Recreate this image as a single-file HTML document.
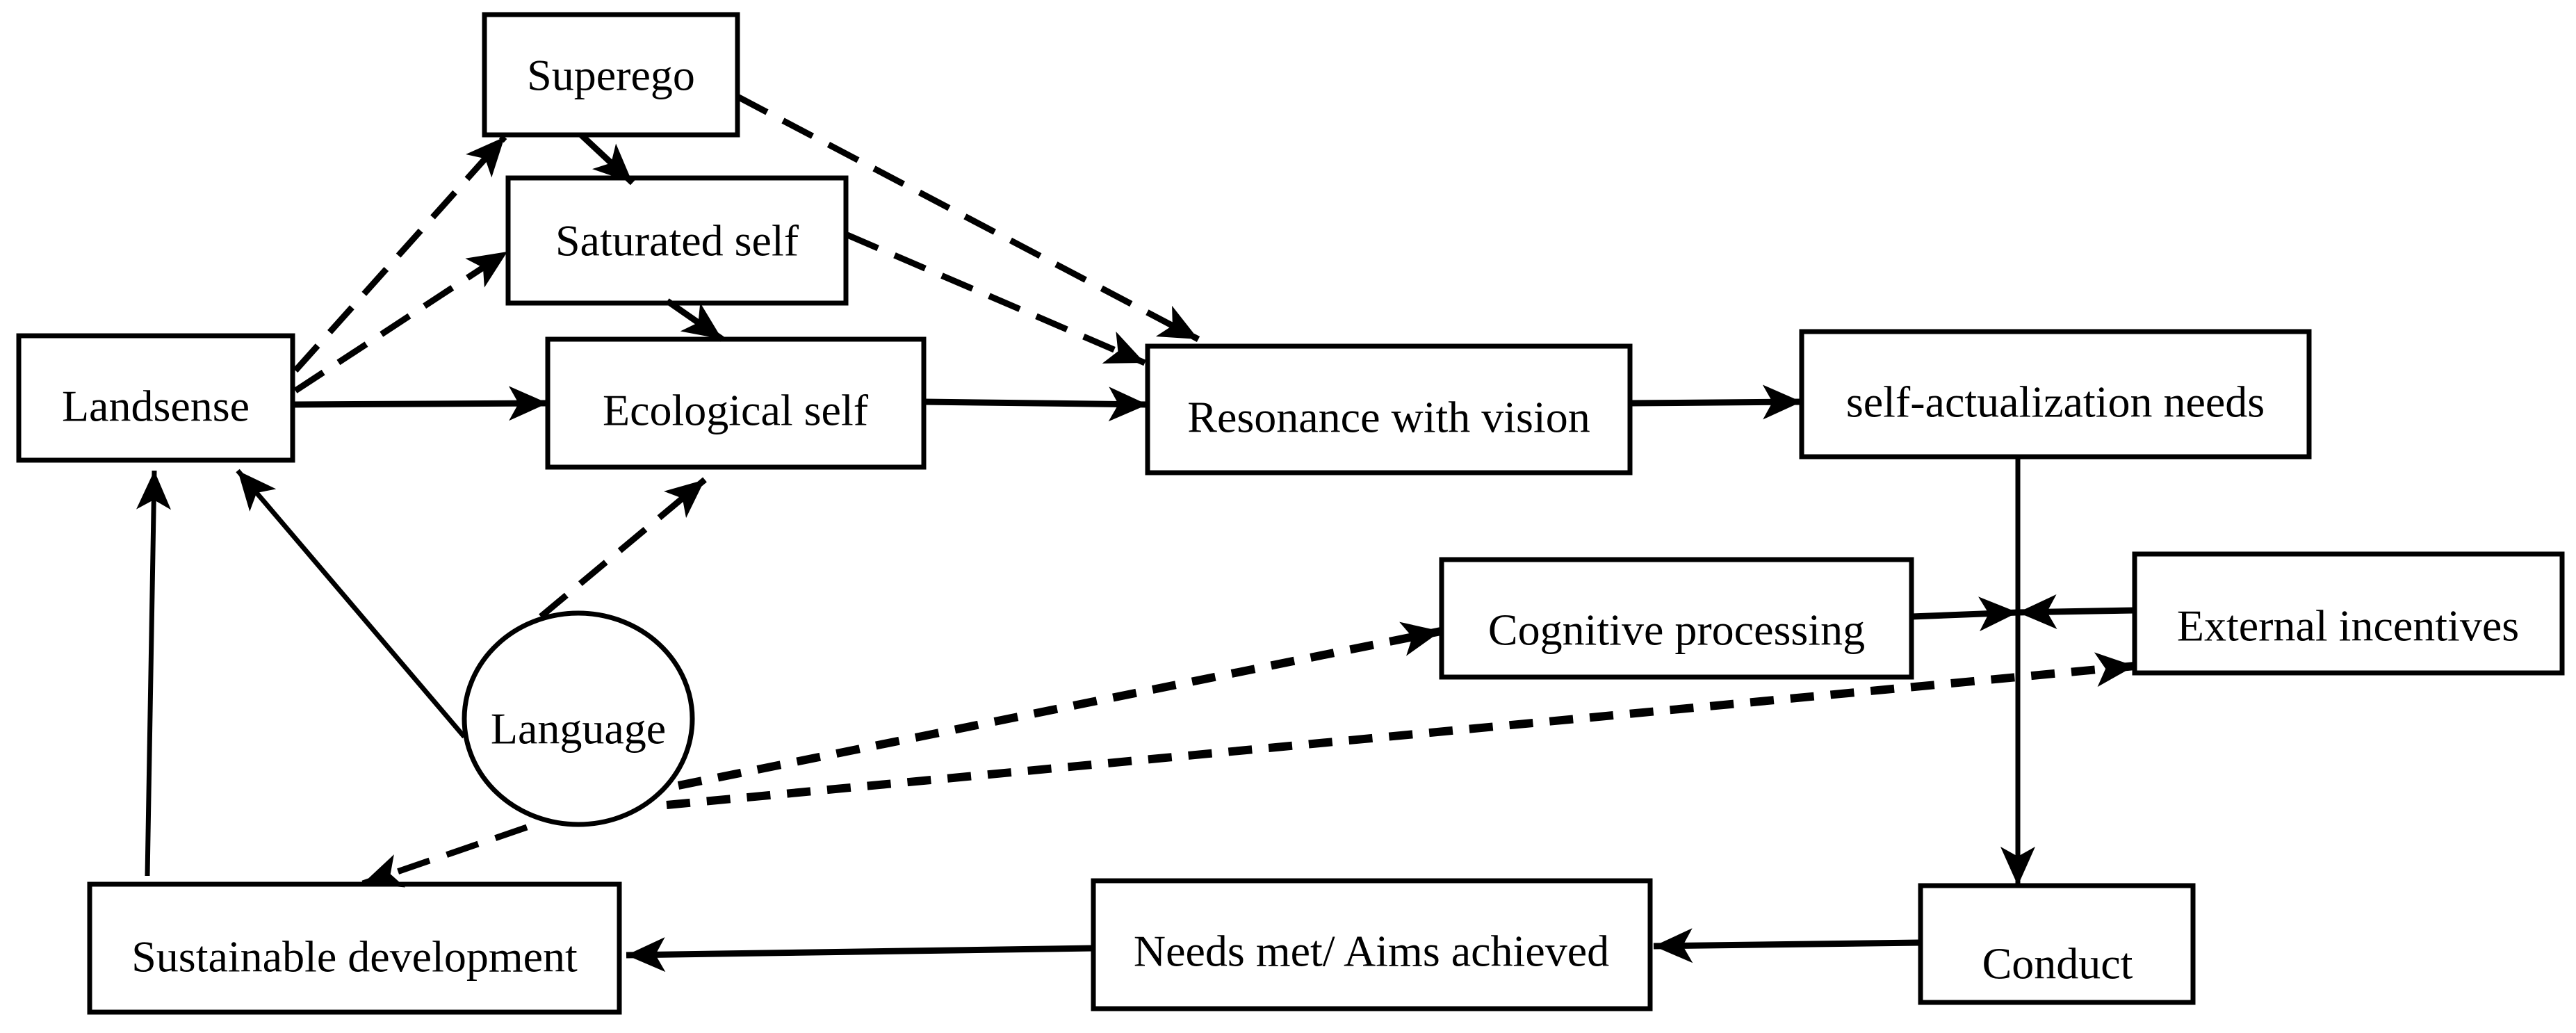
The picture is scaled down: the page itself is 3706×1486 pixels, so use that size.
<!DOCTYPE html>
<html><head><meta charset="utf-8"><style>
html,body{margin:0;padding:0;background:#fff;}
svg{display:block;}
text{font-family:"Liberation Serif","Times New Roman",serif;font-size:64px;fill:#000;text-anchor:middle;dominant-baseline:central;}
</style></head><body>
<svg width="3706" height="1486" viewBox="0 0 3706 1486" xmlns="http://www.w3.org/2000/svg">
<defs>
<marker id="a" markerUnits="userSpaceOnUse" markerWidth="70" markerHeight="60" refX="56" refY="25" orient="auto">
<path d="M0,0 L56,25 L0,50 L14,25 Z" fill="#000"/>
</marker>
</defs>
<g fill="none" stroke="#000" stroke-width="7">
<rect x="697" y="21" width="364" height="173"/>
<rect x="731" y="256" width="486" height="180"/>
<rect x="788" y="488" width="541" height="184"/>
<rect x="27" y="483" width="394" height="179"/>
<rect x="1651" y="498" width="694" height="182"/>
<rect x="2592" y="477" width="730" height="180"/>
<rect x="2074" y="805" width="676" height="169"/>
<rect x="3071" y="797" width="615" height="171"/>
<rect x="2763" y="1274" width="392" height="168"/>
<rect x="1573" y="1267" width="801" height="184"/>
<rect x="129" y="1272" width="762" height="184"/>
<ellipse cx="832" cy="1034" rx="164" ry="152"/>
</g>
<g fill="none" stroke="#000" stroke-width="9">
<line x1="421" y1="582" x2="788" y2="580" marker-end="url(#a)"/>
<line x1="1329" y1="578" x2="1651" y2="582" marker-end="url(#a)"/>
<line x1="2345" y1="580" x2="2592" y2="578" marker-end="url(#a)"/>
<line x1="836" y1="194" x2="910" y2="263" marker-end="url(#a)"/>
<line x1="960" y1="433" x2="1039" y2="488" marker-end="url(#a)"/>
<line x1="2750" y1="887" x2="2903" y2="881" marker-end="url(#a)"/>
<line x1="3071" y1="878" x2="2903" y2="881" marker-end="url(#a)"/>
<line x1="2763" y1="1356" x2="2379" y2="1361" marker-end="url(#a)"/>
<line x1="1573" y1="1364" x2="901" y2="1374" marker-end="url(#a)"/>
</g>
<g fill="none" stroke="#000" stroke-width="7">
<line x1="2903" y1="657" x2="2903" y2="1274" marker-end="url(#a)"/>
<line x1="212" y1="1260" x2="222" y2="677" marker-end="url(#a)"/>
<line x1="668" y1="1060" x2="342" y2="677" marker-end="url(#a)"/>
</g>
<g fill="none" stroke="#000" stroke-width="9" stroke-dasharray="48,26">
<line x1="425" y1="533" x2="726" y2="197" marker-end="url(#a)"/>
<line x1="425" y1="562" x2="730" y2="362" marker-end="url(#a)"/>
<line x1="1061" y1="139" x2="1724" y2="488" marker-end="url(#a)"/>
<line x1="1219" y1="338" x2="1647" y2="522" marker-end="url(#a)"/>
<line x1="778" y1="887" x2="1014" y2="690" marker-end="url(#a)"/>
<line x1="758" y1="1190" x2="522" y2="1271" marker-end="url(#a)"/>
</g>
<g fill="none" stroke="#000" stroke-width="12" stroke-dasharray="34,24">
<line x1="976" y1="1130" x2="2073" y2="908" marker-end="url(#a)"/>
<line x1="959" y1="1158" x2="3071" y2="958" marker-end="url(#a)"/>
</g>
<text x="879" y="108">Superego</text>
<text x="974" y="346">Saturated self</text>
<text x="1058" y="590">Ecological self</text>
<text x="224" y="584">Landsense</text>
<text x="1998" y="600">Resonance with vision</text>
<text x="2957" y="578">self-actualization needs</text>
<text x="2412" y="906">Cognitive processing</text>
<text x="3378" y="900">External incentives</text>
<text x="2960" y="1386">Conduct</text>
<text x="1973" y="1368">Needs met/ Aims achieved</text>
<text x="510" y="1376">Sustainable development</text>
<text x="832" y="1048">Language</text>
</svg>
</body></html>
